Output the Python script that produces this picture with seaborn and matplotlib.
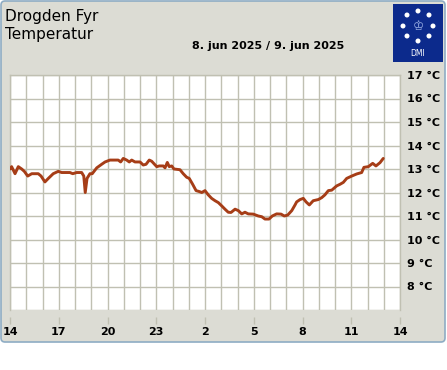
import matplotlib
matplotlib.use('Agg')
import matplotlib.pyplot as plt
from matplotlib.patches import FancyBboxPatch, Rectangle, Circle
from matplotlib.ticker import MultipleLocator, FixedLocator
import seaborn as sns
import pandas as pd

# Hours after 14:00 on 8 June, and the temperature (deg C)
hours = [0.0, 0.10, 0.31, 0.51, 0.72, 0.88, 1.09, 1.34, 1.74, 1.91,
         2.15, 2.36, 2.66, 2.97, 3.18, 3.69, 3.86, 4.10, 4.41, 4.54,
         4.63, 4.74, 4.92, 5.06, 5.34, 5.64, 5.85, 6.15, 6.66, 6.81,
         6.97, 7.18, 7.34, 7.49, 7.69, 8.00, 8.20, 8.37, 8.57, 8.72,
         9.03, 9.19, 9.43, 9.54, 9.68, 9.80, 9.95, 10.09, 10.46, 10.66,
         10.87, 11.03, 11.24, 11.45, 11.65, 11.80, 12.00, 12.20, 12.41, 12.62,
         12.82, 13.03, 13.23, 13.43, 13.60, 13.85, 14.05, 14.26, 14.46, 14.66,
         14.97, 15.28, 15.49, 15.69, 15.94, 16.14, 16.41, 16.68, 16.88, 17.09,
         17.34, 17.54, 17.64, 17.85, 18.05, 18.22, 18.42, 18.66, 18.97, 19.18,
         19.38, 19.59, 19.80, 20.10, 20.31, 20.51, 20.72, 21.03, 21.34, 21.64,
         21.78, 22.05, 22.32, 22.52, 22.77, 22.97]
temps = [13.0, 13.1, 12.8, 13.1, 13.0, 12.9, 12.7, 12.8, 12.8, 12.7,
         12.45, 12.6, 12.8, 12.9, 12.85, 12.85, 12.8, 12.85, 12.85, 12.7,
         12.0, 12.6, 12.8, 12.8, 13.05, 13.2, 13.3, 13.38, 13.38, 13.3,
         13.45, 13.38, 13.3, 13.38, 13.3, 13.3, 13.17, 13.2, 13.38, 13.33,
         13.1, 13.13, 13.13, 13.05, 13.28, 13.1, 13.13, 13.0, 12.97, 12.8,
         12.65, 12.6, 12.35, 12.08, 12.04, 12.0, 12.08, 11.9, 11.75, 11.65,
         11.57, 11.43, 11.29, 11.16, 11.15, 11.29, 11.23, 11.09, 11.16, 11.09,
         11.08, 11.0, 10.97, 10.87, 10.87, 11.0, 11.09, 11.08, 11.0, 11.04,
         11.23, 11.47, 11.6, 11.7, 11.75, 11.6, 11.47, 11.65, 11.7, 11.78,
         11.9, 12.08, 12.1, 12.28, 12.35, 12.43, 12.6, 12.7, 12.79, 12.85,
         13.07, 13.1, 13.24, 13.13, 13.27, 13.45]

hour_ticks = [0, 3, 6, 9, 12, 15, 18, 21, 24]
hour_labels = ['14', '17', '20', '23', '2', '5', '8', '11', '14']
temp_ticks = list(range(7, 18))
temp_labels = [''] + [f'{t} °C' for t in range(8, 18)]

station = 'Drogden Fyr'
quantity = 'Temperatur'
date_text = '8. jun 2025 / 9. jun 2025'

panel_bg = '#dcdcd4'
panel_edge = '#8eacc4'
grid_col = '#c0c0b2'
line_col = '#a63d17'
dmi_blue = '#0c2a8c'

sns.set_style('white')
plt.rcParams['font.family'] = ['DejaVu Sans']
plt.rcParams['text.color'] = 'black'
plt.rcParams['xtick.labelcolor'] = 'black'
plt.rcParams['ytick.labelcolor'] = 'black'

W, H = 447, 370
fig = plt.figure(figsize=(W / 100, H / 100), dpi=100)
fig.patch.set_facecolor('white')
px = fig.dpi_scale_trans


def inch(x, y):
    # pixel position (from top-left) to inches from bottom-left
    return x / 100, (H - y) / 100


# grey panel with rounded frame
x0, y0 = inch(1, 342)
panel = FancyBboxPatch((x0, y0), 4.44, 3.41, boxstyle='round,pad=0,rounding_size=0.04',
                       transform=px, facecolor=panel_bg, edgecolor=panel_edge,
                       linewidth=1.2, zorder=-5)
fig.add_artist(panel)

# DMI logo
lx, ly = inch(393, 62)
fig.add_artist(Rectangle((lx, ly), 0.50, 0.58, transform=px, facecolor=dmi_blue,
                         edgecolor='none', zorder=-4))
cx, cy = 418, 26
for dx, dy in [(0, -15), (-11, -11), (11, -11), (-15, 0), (15, 0),
               (-11, 10), (11, 10), (0, 15)]:
    fig.add_artist(Circle(inch(cx + dx, cy + dy), 0.025, transform=px,
                          facecolor='white', edgecolor='none', zorder=-3))
fig.text(*inch(cx, cy), '♔', transform=px, color='#9fb3e6', fontsize=9,
         ha='center', va='center')
fig.text(*inch(cx, 54), 'DMI', transform=px, color='white', fontsize=5.5,
         ha='center', va='center')

# titles
fig.text(*inch(5, 16), station, transform=px, fontsize=11, ha='left', va='center',
         color='black')
fig.text(*inch(5, 35), quantity, transform=px, fontsize=11, ha='left', va='center',
         color='black')
fig.text(*inch(268, 46), date_text, transform=px, fontsize=8, fontweight='bold',
         ha='center', va='center', color='black')

# plot area
ax = fig.add_axes([10 / W, (H - 310) / H, 390 / W, 235 / H])
ax.set_facecolor('white')

df = pd.DataFrame({'hour': hours, 'temp': temps})
sns.lineplot(data=df, x='hour', y='temp', ax=ax, color=line_col, linewidth=2.1,
             estimator=None, sort=False, zorder=3)

ax.set_xlim(0, 24)
ax.set_ylim(7, 17)
ax.xaxis.set_major_locator(FixedLocator(hour_ticks))
ax.set_xticklabels(hour_labels)
ax.xaxis.set_minor_locator(MultipleLocator(1))
ax.set_yticks(temp_ticks)
ax.set_yticklabels(temp_labels)
ax.yaxis.tick_right()

ax.grid(True, which='both', color=grid_col, linewidth=1.0)
ax.set_axisbelow(True)
for side in ['top', 'left', 'right']:
    ax.spines[side].set_color(grid_col)
    ax.spines[side].set_linewidth(1.0)
ax.spines['bottom'].set_position(('outward', 5))
ax.spines['bottom'].set_visible(False)

ax.tick_params(axis='x', which='major', length=5, width=1, color=grid_col, pad=2,
               labelsize=8, bottom=True, labelcolor='black')
ax.tick_params(axis='x', which='minor', length=0)
ax.tick_params(axis='y', length=0, pad=5, labelsize=8, right=True, left=False,
               labelcolor='black')
for lab in ax.get_xticklabels() + ax.get_yticklabels():
    lab.set_fontweight('bold')

ax.set_xlabel('')
ax.set_ylabel('')

fig.savefig('out.png', dpi=100)
